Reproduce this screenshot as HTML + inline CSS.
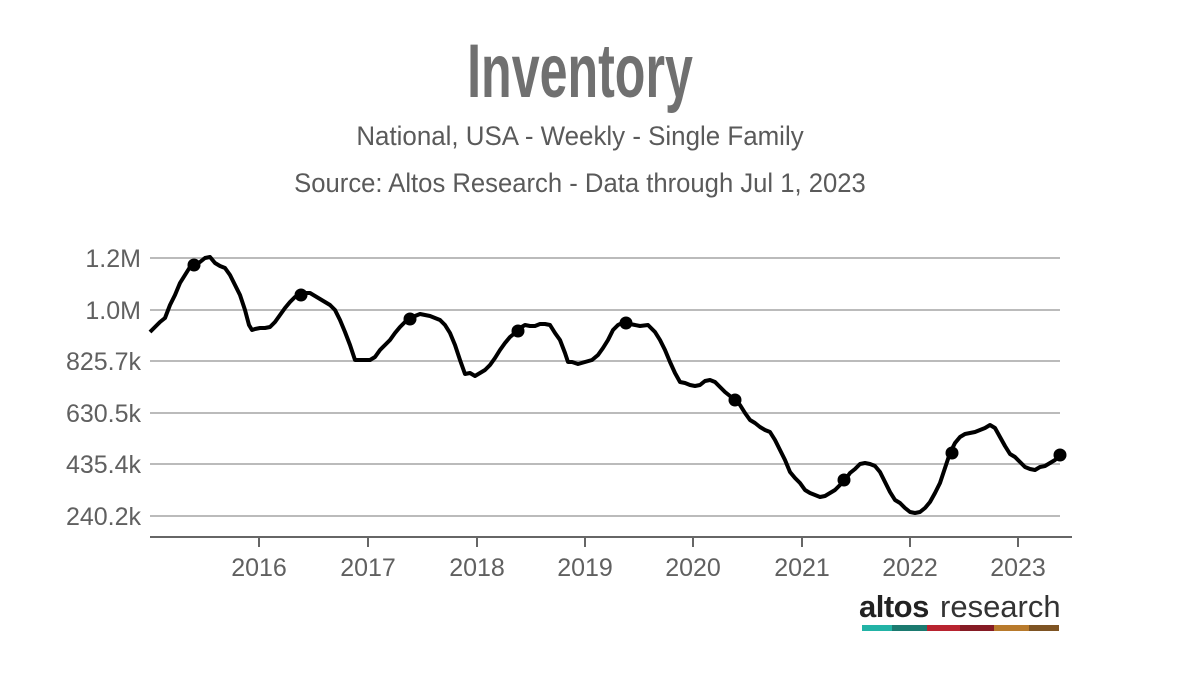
<!DOCTYPE html>
<html><head><meta charset="utf-8"><style>
body{margin:0;background:#fff;}
svg text{font-family:"Liberation Sans Narrow","Liberation Sans",sans-serif;}
</style></head><body>
<svg width="1200" height="676" viewBox="0 0 1200 676" xmlns="http://www.w3.org/2000/svg">
<rect width="1200" height="676" fill="#fff"/>
<text x="580" y="97" text-anchor="middle" font-size="76" font-weight="bold" fill="#707070" transform="translate(580 0) scale(0.66 1) translate(-580 0)">Inventory</text>
<text x="580" y="145" text-anchor="middle" font-size="27" fill="#5a5a5a" transform="translate(580 0) scale(0.96 1) translate(-580 0)">National, USA - Weekly - Single Family</text>
<text x="580" y="192" text-anchor="middle" font-size="27" fill="#5a5a5a" transform="translate(580 0) scale(0.95 1) translate(-580 0)">Source: Altos Research - Data through Jul 1, 2023</text>
<g stroke="#bbb" stroke-width="2">
<line x1="150" y1="258" x2="1060" y2="258"/><line x1="150" y1="310" x2="1060" y2="310"/><line x1="150" y1="361" x2="1060" y2="361"/><line x1="150" y1="413" x2="1060" y2="413"/><line x1="150" y1="464" x2="1060" y2="464"/><line x1="150" y1="516" x2="1060" y2="516"/>
</g>
<g font-size="25" fill="#606060" text-anchor="end">
<text x="141" y="267">1.2M</text><text x="141" y="319">1.0M</text><text x="141" y="370">825.7k</text><text x="141" y="422">630.5k</text><text x="141" y="473">435.4k</text><text x="141" y="525">240.2k</text>
</g>
<line x1="150" y1="537" x2="1072" y2="537" stroke="#666" stroke-width="2"/>
<g stroke="#666" stroke-width="2">
<line x1="259" y1="537" x2="259" y2="547"/><line x1="368" y1="537" x2="368" y2="547"/><line x1="477" y1="537" x2="477" y2="547"/><line x1="585" y1="537" x2="585" y2="547"/><line x1="693" y1="537" x2="693" y2="547"/><line x1="802" y1="537" x2="802" y2="547"/><line x1="910" y1="537" x2="910" y2="547"/><line x1="1018" y1="537" x2="1018" y2="547"/>
</g>
<g font-size="25" fill="#606060" text-anchor="middle">
<text x="259" y="576">2016</text><text x="368" y="576">2017</text><text x="477" y="576">2018</text><text x="585" y="576">2019</text><text x="693" y="576">2020</text><text x="802" y="576">2021</text><text x="910" y="576">2022</text><text x="1018" y="576">2023</text>
</g>
<polyline fill="none" stroke="#000" stroke-width="4" stroke-linejoin="round" points="150,332 160,322 165,318 170,305 175,295 180,283 185,275 190,267 194,265 200,262 205,258 210,257 215,263 220,266 225,268 230,275 235,285 240,295 245,310 249,325 252,330 255,329 260,328 265,328 270,327 275,322 280,315 285,308 290,302 295,297 301,295 305,293 310,293 315,296 320,299 325,302 330,305 335,310 340,320 345,332 350,345 355,360 360,360 365,360 370,360 375,357 380,350 385,345 390,340 395,333 400,327 405,322 410,319 415,316 420,314 425,315 430,316 435,318 440,320 445,325 450,333 455,345 460,360 465,374 470,373 475,376 480,373 485,370 490,365 495,358 500,350 505,343 510,337 515,333 520,328 525,325 530,326 535,326 540,324 545,324 550,325 555,333 560,340 565,353 568,362 572,362 578,364 585,362 592,360 598,355 603,348 608,340 613,330 618,325 622,323 630,324 640,326 648,325 655,332 660,340 665,350 670,362 675,373 680,382 685,383 690,385 695,386 700,385 705,381 710,380 715,382 720,387 725,392 735,400 740,405 745,413 750,420 755,423 760,427 765,430 770,432 775,440 780,450 785,460 790,472 795,478 800,483 805,490 810,493 815,495 820,497 825,496 830,493 835,490 840,485 845,480 850,473 855,469 860,464 865,463 870,464 875,466 880,472 885,482 890,492 895,500 900,503 905,508 910,512 915,513 920,512 925,508 930,502 935,493 940,483 945,468 950,453 955,443 960,437 965,434 970,433 975,432 980,430 985,428 990,425 995,428 1000,437 1005,446 1010,454 1015,457 1020,462 1025,467 1030,469 1035,470 1040,467 1045,466 1050,463 1055,460 1060,455"/>
<g fill="#000">
<circle cx="194" cy="265" r="6.5"/><circle cx="301" cy="295" r="6.5"/><circle cx="410" cy="319" r="6.5"/><circle cx="518" cy="331" r="6.5"/><circle cx="626" cy="323" r="6.5"/><circle cx="735" cy="400" r="6.5"/><circle cx="844" cy="480" r="6.5"/><circle cx="952" cy="453" r="6.5"/><circle cx="1060" cy="455" r="6.5"/>
</g>
<text x="859" y="617" font-size="31" fill="#222" style="font-family:'Liberation Sans',sans-serif" font-weight="bold" letter-spacing="-0.5">altos</text>
<text x="940" y="617" font-size="31" fill="#333" style="font-family:'Liberation Sans',sans-serif">research</text>
<rect x="862" y="625" width="30" height="6" fill="#22b3a6"/>
<rect x="892" y="625" width="35" height="6" fill="#1b7a70"/>
<rect x="927" y="625" width="33" height="6" fill="#b8232f"/>
<rect x="960" y="625" width="34" height="6" fill="#861b24"/>
<rect x="994" y="625" width="35" height="6" fill="#b87a2c"/>
<rect x="1029" y="625" width="30" height="6" fill="#7e5423"/>
</svg>
</body></html>
